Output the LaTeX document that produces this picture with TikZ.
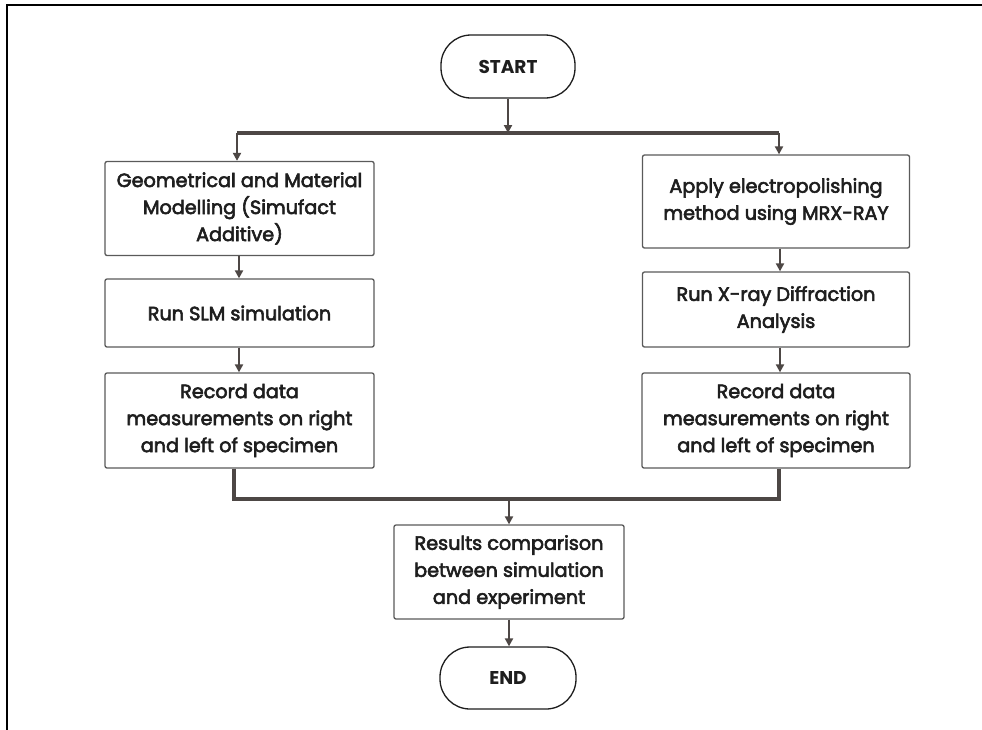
\documentclass[tikz,border=0pt]{standalone}
\usepackage{fontspec}
\setmainfont{Poppins}
\newfontfamily\boxfont{Poppins}[FakeBold=3]
\usetikzlibrary{arrows.meta}
\definecolor{linec}{HTML}{4D4745}
\definecolor{boxc}{HTML}{5A5A5A}
\definecolor{txtc}{HTML}{1E1E1E}
\tikzset{
  procbox/.style={draw=boxc, line width=1.3pt, rounded corners=2pt, align=center,
    text=txtc, font=\boxfont\fontsize{19.2}{27}\selectfont, inner sep=0pt},
  term/.style={draw=txtc, line width=1.3pt, rounded corners=30pt, align=center,
    text=txtc, font=\fontsize{18.5}{26}\selectfont\bfseries, inner sep=0pt},
  arr/.style={draw=linec, line width=2.2pt, -{Triangle[length=8pt,width=8pt]}},
  bar/.style={draw=linec, line width=3.4pt},
}
\begin{document}
\begin{tikzpicture}[x=1pt,y=-1pt]
\useasboundingbox (0,0) rectangle (982,729);
\fill[white] (0,0) rectangle (982,729);
\draw[line width=2.4pt, line cap=rect] (7,729) -- (7,5) -- (982,5);

\node[term, minimum width=134pt, minimum height=63pt] (start) at (508,66.5) {START};

\node[procbox, minimum width=269pt, minimum height=94pt] (L1) at (239.5,208.5)
  {Geometrical and Material\\Modelling (Simufact\\Additive)};
\node[procbox, minimum width=269pt, minimum height=68pt] (L2) at (239.5,313)
  {Run SLM simulation};
\node[procbox, minimum width=269pt, minimum height=95pt] (L3) at (239.5,420.5)
  {Record data\\measurements on right\\and left of specimen};

\node[procbox, minimum width=267pt, minimum height=93pt] (R1) at (776,201.5)
  {Apply electropolishing\\method using MRX-RAY};
\node[procbox, minimum width=267pt, minimum height=75pt] (R2) at (776,309.5)
  {Run X-ray Diffraction\\Analysis};
\node[procbox, minimum width=268pt, minimum height=95pt] (R3) at (776,420.5)
  {Record data\\measurements on right\\and left of specimen};

\node[procbox, minimum width=230pt, minimum height=94pt] (res) at (509,572)
  {Results comparison\\between simulation\\and experiment};
\node[term, minimum width=136pt, minimum height=62pt] (end) at (508,678) {END};

\coordinate (bm) at (508,133);
\coordinate (bl) at (237,133);
\coordinate (br) at (779,133);
\coordinate (jl) at (234,499);
\coordinate (jr) at (779,499);
\coordinate (jm) at (509,499);
\coordinate (lx) at (239,0);
\coordinate (rx) at (780,0);

\draw[arr] (start.south) -- (bm);
\draw[bar] (bl) -- (br);
\draw[arr] (bl) -- (bl |- L1.north);
\draw[arr] (br) -- (br |- R1.north);
\draw[arr] (lx |- L1.south) -- (lx |- L2.north);
\draw[arr] (lx |- L2.south) -- (lx |- L3.north);
\draw[arr] (rx |- R1.south) -- (rx |- R2.north);
\draw[arr] (rx |- R2.south) -- (rx |- R3.north);
\draw[bar] (jl |- L3.south) -- (jl) -- (jr) -- (jr |- R3.south);
\draw[arr] (jm) -- (jm |- res.north);
\draw[arr] (jm |- res.south) -- (jm |- end.north);
\end{tikzpicture}
\end{document}
